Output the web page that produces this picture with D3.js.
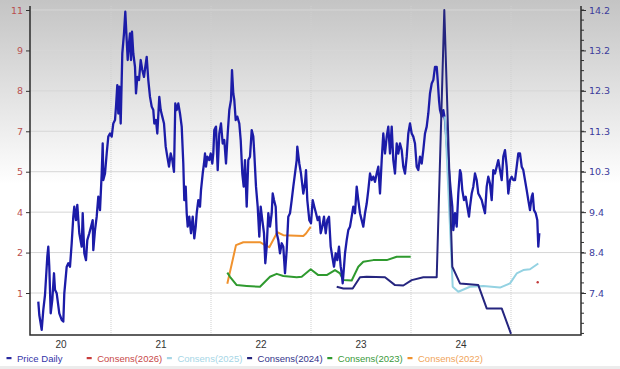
<!DOCTYPE html>
<html>
<head>
<meta charset="utf-8">
<script src="https://cdn.jsdelivr.net/npm/d3@7"></script>
<style>
  body { margin: 0; background: #fff; }
  svg { display: block; }
</style>
</head>
<body>
<svg id="base" width="620" height="369"></svg>
<script>
// values are [decimal year, value]; price on the left axis, consensus on the right
let priceDaily = [
  [2020.273,0.70],[2020.283,0.23],[2020.307,-0.29],[2020.323,0.41],[2020.34,0.93],[2020.363,2.27],[2020.373,2.62],[2020.383,1.92],
  [2020.397,0.29],[2020.413,0.76],[2020.43,1.69],[2020.44,1.11],[2020.457,0.99],[2020.483,0.29],[2020.507,0.06],[2020.523,0.00],
  [2020.533,0.99],[2020.557,1.92],[2020.573,2.04],[2020.59,1.92],[2020.607,2.74],[2020.623,3.67],[2020.633,4.02],[2020.65,3.55],
  [2020.663,4.08],[2020.683,3.09],[2020.707,2.62],[2020.717,3.79],[2020.733,2.39],[2020.75,2.15],[2020.763,2.85],[2020.783,3.09],
  [2020.8,3.32],[2020.817,3.55],[2020.823,2.50],[2020.84,3.20],[2020.857,3.67],[2020.873,4.37],[2020.89,3.90],[2020.907,5.18],
  [2020.917,6.23],[2020.923,4.95],[2020.94,5.18],[2020.957,5.88],[2020.973,6.47],[2020.99,6.58],[2021.007,6.47],[2021.023,6.93],
  [2021.04,7.05],[2021.05,7.52],[2021.063,8.27],[2021.073,7.28],[2021.083,8.22],[2021.097,6.93],[2021.113,9.38],[2021.13,10.08],
  [2021.143,10.84],[2021.157,9.85],[2021.167,9.15],[2021.18,9.73],[2021.19,10.08],[2021.2,9.15],[2021.21,10.14],[2021.223,9.38],
  [2021.24,8.91],[2021.25,7.98],[2021.263,8.56],[2021.28,8.45],[2021.297,9.15],[2021.313,8.80],[2021.33,8.56],[2021.343,8.91],
  [2021.357,9.26],[2021.373,8.45],[2021.39,7.86],[2021.407,7.52],[2021.423,7.40],[2021.433,6.93],[2021.45,7.05],[2021.463,6.58],
  [2021.483,7.86],[2021.497,7.40],[2021.513,7.17],[2021.53,6.93],[2021.547,6.12],[2021.563,5.77],[2021.58,5.42],[2021.597,5.88],
  [2021.613,5.65],[2021.63,5.24],[2021.643,7.63],[2021.657,7.40],[2021.673,7.63],[2021.69,7.28],[2021.707,6.82],[2021.723,5.53],
  [2021.733,4.25],[2021.747,4.72],[2021.757,3.79],[2021.767,3.32],[2021.783,3.67],[2021.8,3.09],[2021.817,3.67],[2021.833,2.91],
  [2021.847,3.32],[2021.857,3.79],[2021.873,4.25],[2021.89,4.02],[2021.9,4.60],[2021.917,5.18],[2021.93,5.53],[2021.94,5.88],
  [2021.95,5.42],[2021.963,5.77],[2021.983,5.65],[2021.997,5.88],[2022.013,5.53],[2022.023,5.88],[2022.033,6.70],[2022.05,6.82],
  [2022.067,5.30],[2022.083,6.58],[2022.1,6.93],[2022.117,6.23],[2022.133,6.35],[2022.15,5.53],[2022.167,6.58],[2022.183,7.40],
  [2022.2,7.75],[2022.21,8.80],[2022.223,7.98],[2022.233,7.75],[2022.247,7.05],[2022.263,7.17],[2022.283,6.93],[2022.297,6.35],
  [2022.313,5.18],[2022.327,4.72],[2022.34,5.65],[2022.357,4.02],[2022.373,5.65],[2022.39,5.77],[2022.407,6.70],[2022.423,6.47],
  [2022.433,5.88],[2022.45,4.72],[2022.467,4.02],[2022.483,2.97],[2022.497,4.02],[2022.513,3.55],[2022.53,3.09],[2022.543,2.04],
  [2022.557,2.62],[2022.573,3.79],[2022.59,3.32],[2022.607,3.79],[2022.617,4.48],[2022.63,4.25],[2022.647,4.02],[2022.657,3.09],
  [2022.673,2.85],[2022.69,2.39],[2022.707,2.74],[2022.723,2.62],[2022.74,1.69],[2022.757,2.50],[2022.773,3.67],[2022.79,3.79],
  [2022.807,4.25],[2022.823,4.72],[2022.84,5.18],[2022.857,5.65],[2022.863,6.12],[2022.883,5.53],[2022.9,5.18],[2022.923,4.48],
  [2022.94,4.83],[2022.95,5.30],[2022.963,4.25],[2022.983,3.55],[2023.0,3.44],[2023.017,4.25],[2023.033,4.02],[2023.05,3.79],
  [2023.067,3.55],[2023.083,3.67],[2023.097,3.09],[2023.113,3.32],[2023.13,3.67],[2023.147,3.09],[2023.163,3.55],[2023.18,3.67],
  [2023.197,2.62],[2023.213,2.27],[2023.23,1.92],[2023.247,2.39],[2023.263,2.15],[2023.28,2.62],[2023.297,1.92],[2023.307,1.69],
  [2023.317,1.34],[2023.33,1.92],[2023.34,2.39],[2023.357,2.85],[2023.373,3.20],[2023.39,3.32],[2023.407,3.67],[2023.423,4.02],
  [2023.44,3.79],[2023.457,4.72],[2023.473,4.25],[2023.49,3.79],[2023.507,3.55],[2023.523,3.32],[2023.54,3.79],[2023.557,4.13],
  [2023.573,4.60],[2023.59,5.18],[2023.607,4.95],[2023.623,5.07],[2023.64,4.89],[2023.657,5.18],[2023.673,5.42],[2023.69,4.48],
  [2023.707,5.65],[2023.723,6.58],[2023.74,5.88],[2023.757,6.47],[2023.773,6.82],[2023.79,5.88],[2023.807,6.82],[2023.823,5.65],
  [2023.84,5.18],[2023.857,6.23],[2023.873,5.88],[2023.89,6.23],[2023.907,6.00],[2023.923,5.42],[2023.94,5.18],[2023.957,5.77],
  [2023.973,6.58],[2023.99,6.93],[2024.007,6.58],[2024.023,6.47],[2024.04,6.23],[2024.057,5.42],[2024.073,5.30],[2024.09,5.77],
  [2024.107,5.53],[2024.123,6.00],[2024.14,6.58],[2024.157,6.82],[2024.173,7.28],[2024.19,7.98],[2024.207,8.33],[2024.223,8.45],
  [2024.24,8.91],[2024.257,8.91],[2024.267,8.45],[2024.28,7.75],[2024.29,7.40],[2024.307,7.17],[2024.323,7.40],[2024.34,7.05],
  [2024.35,6.58],[2024.363,6.00],[2024.383,5.18],[2024.397,4.60],[2024.413,4.02],[2024.423,3.20],[2024.44,3.79],[2024.457,3.32],
  [2024.473,4.48],[2024.49,5.30],[2024.5,5.18],[2024.513,4.60],[2024.53,4.25],[2024.547,4.37],[2024.563,4.02],[2024.58,3.67],
  [2024.59,4.02],[2024.607,4.48],[2024.623,4.72],[2024.64,5.18],[2024.657,4.95],[2024.673,4.48],[2024.69,4.37],[2024.707,4.25],
  [2024.723,4.02],[2024.74,3.79],[2024.757,4.72],[2024.773,5.07],[2024.79,4.83],[2024.807,4.25],[2024.823,5.30],[2024.84,5.18],
  [2024.857,5.42],[2024.873,5.65],[2024.89,5.30],[2024.907,4.95],[2024.923,5.77],[2024.94,6.00],[2024.957,5.42],[2024.973,4.48],
  [2024.99,4.95],[2025.007,5.07],[2025.023,4.95],[2025.04,4.95],[2025.057,5.42],[2025.073,5.88],[2025.09,5.88],[2025.107,5.42],
  [2025.123,5.30],[2025.14,4.95],[2025.157,4.60],[2025.173,4.25],[2025.19,3.90],[2025.207,4.37],[2025.217,4.48],[2025.23,3.90],
  [2025.247,3.79],[2025.263,3.55],[2025.273,2.62],[2025.283,3.09]
]

let consens2022 = [
  [2022.163,7.62],[2022.25,8.55],[2022.323,8.62],[2022.49,8.62],[2022.54,8.55],[2022.583,8.50],
  [2022.663,8.86],[2022.723,8.79],[2022.923,8.77],[2022.95,8.83],[2022.997,8.99]
]
let consens2023 = [
  [2022.163,7.89],[2022.19,7.79],[2022.257,7.59],[2022.357,7.57],[2022.49,7.55],[2022.54,7.67],[2022.59,7.79],
  [2022.657,7.86],[2022.723,7.81],[2022.857,7.78],[2022.907,7.79],[2022.997,7.97],[2023.073,7.83],[2023.157,7.83],
  [2023.24,7.95],[2023.29,7.87],[2023.323,7.71],[2023.407,7.70],[2023.473,8.03],[2023.523,8.15],[2023.623,8.19],
  [2023.757,8.19],[2023.857,8.27],[2023.997,8.27]
]
let consens2024 = [
  [2023.257,7.55],[2023.323,7.51],[2023.417,7.51],[2023.49,7.78],[2023.557,7.79],[2023.74,7.78],[2023.84,7.59],
  [2023.923,7.58],[2024.007,7.71],[2024.123,7.78],[2024.257,7.78],[2024.333,14.2],[2024.413,8.03],[2024.49,7.63],
  [2024.673,7.59],[2024.757,7.03],[2024.907,7.03],[2025.0,6.42]
]
let consens2025 = [
  [2024.34,11.64],[2024.417,7.55],[2024.473,7.43],[2024.59,7.55],[2024.723,7.57],[2024.89,7.53],[2024.99,7.63],
  [2025.057,7.87],[2025.123,7.95],[2025.19,7.97],[2025.273,8.11]
]
let consens2026 = [[2025.267,7.66]]

let xTickYears = [2020.5, 2021.5, 2022.5, 2023.5, 2024.5]
let xTickLabels = ["20", "21", "22", "23", "24"]
let gridYears = [2021, 2022, 2023, 2024, 2025]
let leftTickLabels = ["1", "2", "4", "5", "7", "8", "9", "11"]
let rightTickLabels = ["7.4", "8.4", "9.4", "10.3", "11.3", "12.3", "13.2", "14.2"]
let legendLabels = ["Price Daily", "Consens(2026)", "Consens(2025)", "Consens(2024)", "Consens(2023)", "Consens(2022)"]

const W = 620, H = 369
const plotL = 30, plotR = 581, plotT = 6, plotB = 335

const base = d3.select('#base')
const defs = base.append('defs')

let grad = defs.append('linearGradient').attr('id', 'bg').attr('x1', 0).attr('y1', 0).attr('x2', 0).attr('y2', 1)
grad.append('stop').attr('offset', '0').attr('stop-color', '#c4c4c4')
grad.append('stop').attr('offset', '0.5').attr('stop-color', '#ffffff')
grad.append('stop').attr('offset', '1').attr('stop-color', '#ffffff')

defs.append('clipPath').attr('id', 'plotclip')
  .append('rect').attr('x', plotL).attr('y', plotT).attr('width', plotR - plotL).attr('height', plotB - plotT)

base.append('rect').attr('width', W).attr('height', H).attr('fill', 'url(#bg)')
base.append('rect').attr('x', 0).attr('y', 366).attr('width', W).attr('height', 3).attr('fill', '#ececec')

let x = d3.scaleLinear().domain([2020.19, 2025.70]).range([plotL, plotR])
let yLeft = d3.scaleLinear().domain([1, 10.9]).range([293, 10])
let yRight = d3.scaleLinear().domain([7.4, 14.2]).range([293, 10])

let leftTicks = d3.range(8).map(i => 1 + i * (10.9 - 1) / 7)
let rightTicks = d3.range(8).map(i => 7.4 + i * (14.2 - 7.4) / 7)
let rightStep = (14.2 - 7.4) / 7
let rightMinor = d3.range(33).map(k => 14.2 - k * rightStep / 4).filter(v => yRight(v) <= plotB)

// grid
base.append('g').selectAll('line').data(leftTicks).join('line')
  .attr('x1', plotL).attr('x2', plotR)
  .attr('y1', d => yLeft(d)).attr('y2', d => yLeft(d))
  .style('stroke', '#d6d6d6').style('stroke-width', 1)

base.append('g').selectAll('line').data(gridYears).join('line')
  .attr('x1', d => x(d)).attr('x2', d => x(d))
  .attr('y1', plotT).attr('y2', plotB)
  .style('stroke', '#cfcfcf').style('stroke-width', 1).style('stroke-dasharray', '1,1')

// series
const plot = base.append('g').attr('clip-path', 'url(#plotclip)')

function drawSeries(data, scale, color, width) {
  let line = d3.line().x(d => x(d[0])).y(d => scale(d[1]))
  plot.append('path')
    .datum(data)
    .attr('d', line)
    .style('fill', 'none')
    .style('stroke', color)
    .style('stroke-width', width)
    .style('stroke-linejoin', 'round')
}

drawSeries(consens2022, yRight, '#f0922e', 2)
drawSeries(consens2023, yRight, '#2f9a2f', 2)
drawSeries(priceDaily, yLeft, '#1c1ca8', 2.3)
drawSeries(consens2025, yRight, '#94d2e2', 2)
drawSeries(consens2024, yRight, '#25257f', 2)

plot.selectAll('circle.c26').data(consens2026).join('circle')
  .attr('class', 'c26')
  .attr('cx', d => x(d[0])).attr('cy', d => yRight(d[1])).attr('r', 1.2)
  .style('fill', '#c23a3a')

// axes
let leftAxis = d3.axisLeft(yLeft).tickValues(leftTicks).tickFormat((d, i) => leftTickLabels[i]).tickSize(4).tickPadding(3)
let gl = base.append('g').attr('transform', `translate(${plotL},0)`).call(leftAxis)
gl.select('.domain').remove()
gl.selectAll('line').style('stroke', '#333')
gl.selectAll('text').style('fill', '#b85050').style('font-family', 'DejaVu Sans').style('font-size', '9.5px')

let rightAxis = d3.axisRight(yRight).tickValues(rightTicks).tickFormat((d, i) => rightTickLabels[i]).tickSize(5).tickPadding(3)
let gr = base.append('g').attr('transform', `translate(${plotR},0)`).call(rightAxis)
gr.select('.domain').remove()
gr.selectAll('line').style('stroke', '#333')
gr.selectAll('text').style('fill', '#3c3c9c').style('font-family', 'DejaVu Sans').style('font-size', '9.5px')

base.append('g').selectAll('line').data(rightMinor).join('line')
  .attr('x1', plotR).attr('x2', plotR + 3)
  .attr('y1', d => yRight(d)).attr('y2', d => yRight(d))
  .style('stroke', '#333')

// frame: left, right, bottom
base.append('path')
  .attr('d', `M${plotL},${plotT}V${plotB}H${plotR}V${plotT}`)
  .style('fill', 'none').style('stroke', '#2b2b2b').style('stroke-width', 1.5)

base.append('g').selectAll('text').data(xTickYears).join('text')
  .attr('x', d => x(d)).attr('y', 348)
  .attr('text-anchor', 'middle')
  .style('font-family', 'Liberation Sans').style('font-size', '10px').style('fill', '#333')
  .text((d, i) => xTickLabels[i])

// legend
let legendColors = ['#3434a8', '#c84848', '#a6d6e6', '#34348a', '#3a9a3a', '#f0a45a']
let markColors = ['#2a2aa0', '#c83c3c', '#a6d6e6', '#25257f', '#2f9a2f', '#f0922e']
let lg = base.append('g').selectAll('g').data(legendLabels).join('g')
  .attr('transform', (d, i) => `translate(${9 + i * 80.2},358)`)
lg.append('rect').attr('x', -2.5).attr('y', -1).attr('width', 5).attr('height', 2.2)
  .style('fill', (d, i) => markColors[i])
lg.append('text').attr('x', 8).attr('y', 3.5)
  .style('font-family', 'Liberation Sans').style('font-size', '9.5px')
  .style('fill', (d, i) => legendColors[i])
  .text(d => d)
</script>
</body>
</html>
